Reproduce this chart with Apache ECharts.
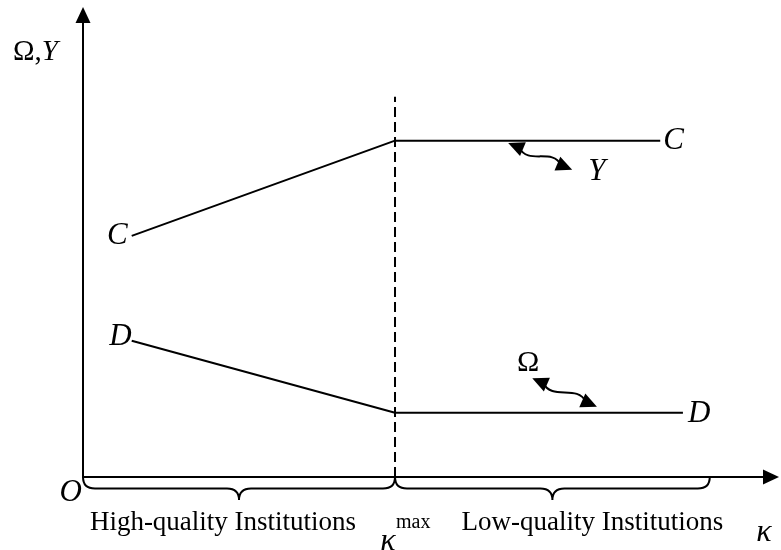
<!DOCTYPE html>
<html><head><meta charset="utf-8">
<script src="https://cdn.jsdelivr.net/npm/echarts@6/dist/echarts.min.js"></script>
<style>html,body{margin:0;padding:0;background:#fff}#c{width:781px;height:550px}</style>
</head><body><div id="c"></div>
<script>
// ---- data (abstract units 0..100) ----
const kappaC = [7.08, 45.35, 83.9];
const valuesC = [52.2, 72.8, 72.8];
const kappaD = [7.08, 45.35, 87.2];
const valuesD = [29.5, 13.9, 13.9];
const kappaMax = 45.35;
const dashTop = 82.3;
const regionEdges = [0, 45.35, 91.1];
const regionNames = ['High-quality Institutions', 'Low-quality Institutions'];
const arrowY = [[61.8, 72.3], [71.1, 66.5]];
const arrowOmega = [[65.3, 21.4], [74.7, 15.2]];
const labelY = [74.7, 66.0];
const labelOmega = [64.7, 24.7];

const SERIF = '"Liberation Serif", "Times New Roman", serif';
const chart = echarts.init(document.getElementById('c'), null, {renderer: 'canvas'});

function txt(x, y, text, size, italic, align, valign) {
  return {type: 'text', x: x, y: y, style: {text: text, fill: '#000', fontSize: size,
    fontFamily: SERIF, fontStyle: italic ? 'italic' : 'normal', align: align || 'center',
    verticalAlign: valign || 'middle'}};
}
function brace(x0, x1, y0, h) {
  const q = h / 2, r = 12, xm = (x0 + x1) / 2;
  const d = 'M' + x0 + ',' + y0 +
    ' Q' + x0 + ',' + (y0 + q) + ' ' + (x0 + r) + ',' + (y0 + q) +
    ' L' + (xm - r) + ',' + (y0 + q) +
    ' Q' + xm + ',' + (y0 + q) + ' ' + xm + ',' + (y0 + h) +
    ' Q' + xm + ',' + (y0 + q) + ' ' + (xm + r) + ',' + (y0 + q) +
    ' L' + (x1 - r) + ',' + (y0 + q) +
    ' Q' + x1 + ',' + (y0 + q) + ' ' + x1 + ',' + y0;
  return {type: 'path', shape: {pathData: d}, style: {fill: null, stroke: '#000', lineWidth: 2}};
}
function wavy(a, b) {
  const dx = b[0] - a[0], dy = b[1] - a[1], L = Math.hypot(dx, dy);
  const ux = dx / L, uy = dy / L, nx = -uy, ny = ux;
  const hl = 16, hw = 7.5, amp = 13;
  const s = [a[0] + ux * 12, a[1] + uy * 12], e = [b[0] - ux * 12, b[1] - uy * 12];
  const ex = e[0] - s[0], ey = e[1] - s[1];
  const p1 = [s[0] + ex * 0.33 + nx * amp, s[1] + ey * 0.33 + ny * amp];
  const p2 = [s[0] + ex * 0.67 - nx * amp, s[1] + ey * 0.67 - ny * amp];
  return [
    {type: 'bezierCurve', shape: {x1: s[0], y1: s[1], cpx1: p1[0], cpy1: p1[1], cpx2: p2[0], cpy2: p2[1], x2: e[0], y2: e[1]},
      style: {fill: null, stroke: '#000', lineWidth: 2}},
    {type: 'polygon', shape: {points: [a, [a[0] + ux * hl + nx * hw, a[1] + uy * hl + ny * hw], [a[0] + ux * hl - nx * hw, a[1] + uy * hl - ny * hw]]},
      style: {fill: '#000'}},
    {type: 'polygon', shape: {points: [b, [b[0] - ux * hl + nx * hw, b[1] - uy * hl + ny * hw], [b[0] - ux * hl - nx * hw, b[1] - uy * hl - ny * hw]]},
      style: {fill: '#000'}}
  ];
}

function renderAnnotations(params, api) {
  const c = p => api.coord(p);
  const els = [];
  const cL = c([kappaC[0], valuesC[0]]), cR = c([kappaC[2], valuesC[2]]);
  const dL = c([kappaD[0], valuesD[0]]), dR = c([kappaD[2], valuesD[2]]);
  els.push(txt(cL[0] - 4, cL[1], 'C', 31, true, 'right'));
  els.push(txt(cR[0] + 3, cR[1], 'C', 31, true, 'left'));
  els.push(txt(dL[0] + 0, dL[1] - 4, 'D', 31, true, 'right'));
  els.push(txt(dR[0] + 5, dR[1] + 1, 'D', 31, true, 'left'));
  // axis labels
  const top = c([0, 92]);
  els.push({type: 'text', x: top[0] - 25, y: top[1], style: {
    text: '{a|Ω,}{b|Y}', align: 'right', verticalAlign: 'middle',
    rich: {a: {fontSize: 29, fontFamily: SERIF, fill: '#000'},
           b: {fontSize: 29, fontFamily: SERIF, fontStyle: 'italic', fill: '#000'}}}});
  const o = c([0, 0]);
  els.push(txt(o[0] - 1, o[1] + 16, 'O', 31, true, 'right'));
  const xe = c([100, 0]);
  els.push(txt(xe[0] - 7, xe[1] + 56, 'κ', 32, true, 'center'));
  const km = c([kappaMax, 0]);
  els.push(txt(km[0] - 7, km[1] + 65, 'κ', 32, true, 'center'));
  els.push(txt(km[0] + 1, km[1] + 46, 'max', 20, false, 'left'));
  // braces and region names
  const nameShift = [-16, 40];
  for (let i = 0; i < regionNames.length; i++) {
    const a = c([regionEdges[i], 0]), b = c([regionEdges[i + 1], 0]);
    els.push(brace(a[0], b[0], a[1], 23));
    els.push(txt((a[0] + b[0]) / 2 + nameShift[i], a[1] + 46, regionNames[i], 27, false, 'center'));
  }
  // wavy arrows and their labels
  wavy(c(arrowY[0]), c(arrowY[1])).forEach(e => els.push(e));
  wavy(c(arrowOmega[0]), c(arrowOmega[1])).forEach(e => els.push(e));
  const ly = c(labelY), lo = c(labelOmega);
  els.push(txt(ly[0], ly[1], 'Y', 31, true, 'center'));
  els.push(txt(lo[0], lo[1], 'Ω', 30, false, 'center'));
  return {type: 'group', children: els};
}

const axisCommon = {
  type: 'value', min: 0, max: 100,
  axisLine: {show: true, onZero: false, symbol: ['none', 'triangle'], symbolSize: [15, 16],
    lineStyle: {color: '#000', width: 2}},
  axisTick: {show: false}, axisLabel: {show: false}, splitLine: {show: false}
};

chart.setOption({
  animation: false,
  backgroundColor: '#fff',
  grid: {left: 83, right: 10, top: 15, bottom: 73, containLabel: false},
  xAxis: axisCommon,
  yAxis: axisCommon,
  series: [
    {type: 'line', data: kappaC.map((x, i) => [x, valuesC[i]]), symbol: 'none',
      lineStyle: {color: '#000', width: 2}},
    {type: 'line', data: kappaD.map((x, i) => [x, valuesD[i]]), symbol: 'none',
      lineStyle: {color: '#000', width: 2}},
    {type: 'line', data: [[kappaMax, 0], [kappaMax, dashTop]], symbol: 'none',
      lineStyle: {color: '#000', width: 2, type: [10, 5]}},
    {type: 'custom', data: [[0, 0]], renderItem: renderAnnotations, clip: false, silent: true}
  ]
});
</script>
</body></html>
